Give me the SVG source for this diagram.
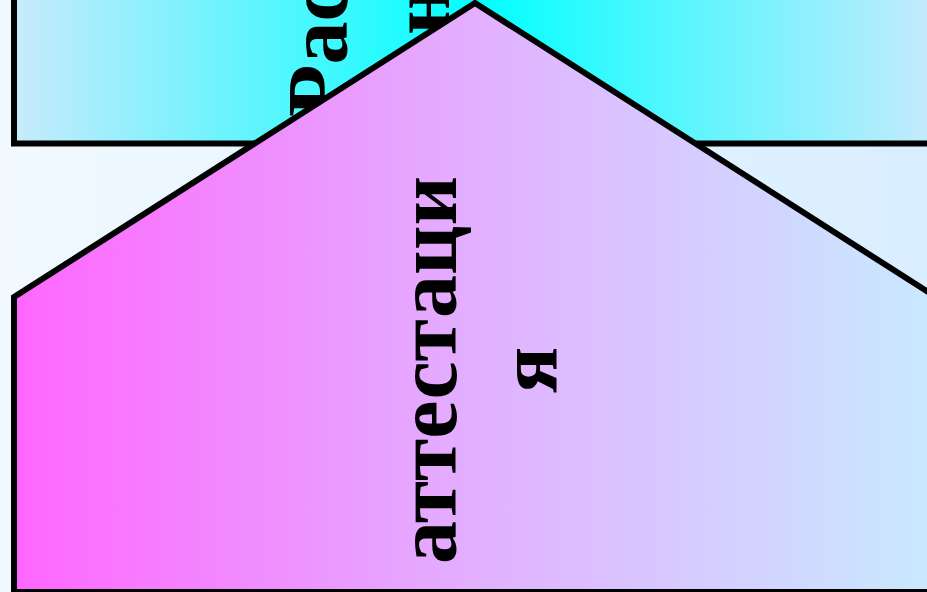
<svg xmlns="http://www.w3.org/2000/svg" width="927" height="592" viewBox="0 0 927 592">
  <defs>
    <linearGradient id="bg" x1="0" y1="0" x2="927" y2="0" gradientUnits="userSpaceOnUse">
      <stop offset="0" stop-color="#f1f9ff"/>
      <stop offset="1" stop-color="#d9eeff"/>
    </linearGradient>
    <linearGradient id="rectGrad" x1="14" y1="0" x2="940" y2="0" gradientUnits="userSpaceOnUse">
      <stop offset="0" stop-color="#c8eafc"/>
      <stop offset="0.5" stop-color="#00ffff"/>
      <stop offset="1" stop-color="#c8eafc"/>
    </linearGradient>
    <linearGradient id="houseGrad" x1="14" y1="0" x2="936" y2="0" gradientUnits="userSpaceOnUse">
      <stop offset="0" stop-color="#ff66ff"/>
      <stop offset="0.5" stop-color="#e2b0ff"/>
      <stop offset="1" stop-color="#c8eaff"/>
    </linearGradient>
    <style>
      .shape { stroke: #000; stroke-width: 6; stroke-linejoin: miter; }
      .label { font-family: "Liberation Serif", "Times New Roman", serif; font-weight: bold; font-size: 86px; fill: #000; }
    </style>
  </defs>
  <rect x="0" y="0" width="927" height="592" fill="url(#bg)"/>

  <g id="top-block">
    <rect class="shape" x="14" y="-20" width="930" height="163.5" fill="url(#rectGrad)"/>
    <text class="label" transform="translate(347,117) rotate(-90)">Рас</text>
    <text class="label" transform="translate(449,35) rotate(-90)">н</text>
  </g>

  <g id="attestation">
    <polygon class="shape" points="14,297 475,3 936,297 936,592 14,592" fill="url(#houseGrad)"/>
    <text class="label" text-anchor="middle" transform="translate(456,370) rotate(-90)">аттестаци</text>
    <text class="label" text-anchor="middle" transform="translate(557,370) rotate(-90)">я</text>
  </g>

  <g id="connectors"/>
</svg>
